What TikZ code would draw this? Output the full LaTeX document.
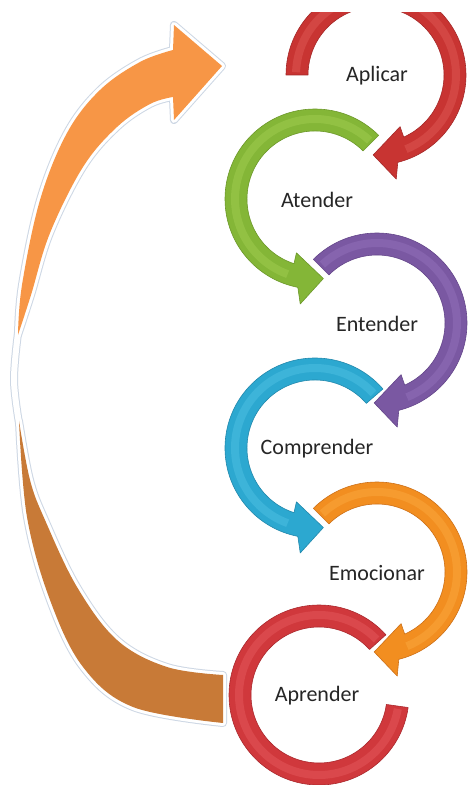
\documentclass[tikz,border=0pt]{standalone}
\usepackage{fontspec}
\setmainfont{Carlito}
\begin{document}
\begin{tikzpicture}[x=1pt,y=1pt,
  label/.style={inner sep=0pt, text=black!85, font=\fontsize{22}{26}\selectfont},
  bigedge/.style={draw={rgb,255:red,205;green,215;blue,228}, line width=8pt, line join=round, line cap=round},
  bigrim/.style={draw=white, line width=6pt, line join=round, line cap=round}]

\definecolor{redA}{RGB}{200,52,50}   \definecolor{redAh}{RGB}{222,88,84}   \definecolor{redAe}{RGB}{165,40,40}
\definecolor{grnA}{RGB}{132,182,55}  \definecolor{grnAh}{RGB}{160,204,80}  \definecolor{grnAe}{RGB}{108,152,42}
\definecolor{purA}{RGB}{122,88,162}  \definecolor{purAh}{RGB}{146,112,186} \definecolor{purAe}{RGB}{100,70,138}
\definecolor{cyaA}{RGB}{44,168,208}  \definecolor{cyaAh}{RGB}{78,192,226}  \definecolor{cyaAe}{RGB}{34,136,172}
\definecolor{orgA}{RGB}{242,142,32}  \definecolor{orgAh}{RGB}{250,168,62}  \definecolor{orgAe}{RGB}{205,112,24}
\definecolor{redB}{RGB}{208,56,60}   \definecolor{redBh}{RGB}{228,88,92}   \definecolor{redBe}{RGB}{170,40,45}
\definecolor{loopTop}{RGB}{247,150,70}
\definecolor{loopBot}{RGB}{200,122,55}

% clockwise ring arrow (right column): centre, start angle, fill, highlight, edge
\newcommand{\cwring}[5]{%
  \begin{scope}[shift={#1}]
    \filldraw[fill=#3, draw=#5, line width=0.6pt, line join=round]
      (#2:90) arc[start angle=#2, end angle=-76, radius=90]
      -- (-79:106) -- (-92:80) -- (-65:57) -- (-66:68)
      arc[start angle=-66, end angle=#2, radius=68] -- cycle;
    \draw[#4, line width=8pt, opacity=0.5]
      (#2-2:80) arc[start angle=#2-2, end angle=-68, radius=80];
  \end{scope}}

% counter-clockwise ring arrow (left column)
\newcommand{\ccwring}[5]{%
  \begin{scope}[shift={#1}]
    \filldraw[fill=#3, draw=#5, line width=0.6pt, line join=round]
      (#2:90) arc[start angle=#2, end angle=259, radius=90]
      -- (262:106) -- (276:80) -- (251:57) -- (252:68)
      arc[start angle=252, end angle=#2, radius=68] -- cycle;
    \draw[#4, line width=8pt, opacity=0.5]
      (#2+2:80) arc[start angle=#2+2, end angle=250, radius=80];
  \end{scope}}

% page
\fill[white] (0,0) rectangle (470,785);
\useasboundingbox (0,0) rectangle (470,785);

% large return arrow on the left: upper head, lower tail, thin join between
\def\loophead{(173,735) -- (174,760) -- (222,719) -- (174,665) -- (173,688)
  -- plot[smooth, tension=0.6] coordinates {(173,688) (150,681) (117,658) (83,618) (50,552) (31,490) (18,450)}
  -- plot[smooth, tension=0.6] coordinates {(18,450) (22,500) (40,585) (67,652) (100,695) (140,723) (173,735)}
  -- cycle}
\def\looptail{(223,110) -- (223,62)
  -- plot[smooth, tension=0.6] coordinates {(223,62) (133,78) (83,118) (50,185) (27,268) (19,364)}
  -- plot[smooth, tension=0.6] coordinates {(19,364) (30,305) (45,265) (77,198) (117,145) (167,118) (223,110)}
  -- cycle}
\def\loopjoin{plot[smooth, tension=0.6] coordinates {(18,452) (14,405) (19,362)}}

\path[bigedge] \loophead;
\path[bigedge] \looptail;
\path[bigedge] \loopjoin;
\path[bigrim] \loophead;
\path[bigrim] \looptail;
\path[bigrim] \loopjoin;
\fill[loopTop] \loophead;
\fill[loopBot] \looptail;

% ring arrows
\begin{scope}
  \clip (0,0) rectangle (470,772);
  \cwring{(376,710)}{180}{redA}{redAh}{redAe}
\end{scope}
\ccwring{(315,586)}{45}{grnA}{grnAh}{grnAe}
\cwring{(377,462)}{135}{purA}{purAh}{purAe}
\ccwring{(315,337)}{41}{cyaA}{cyaAh}{cyaAe}
\cwring{(377,213)}{135}{orgA}{orgAh}{orgAe}
\begin{scope}[shift={(319,90)}]
  \filldraw[fill=redB, draw=redBe, line width=0.6pt, line join=round]
    (42:90) arc[start angle=42, end angle=352, radius=90]
    -- (352:68) arc[start angle=352, end angle=42, radius=68] -- cycle;
  \draw[redBh, line width=8pt, opacity=0.5]
    (44:80) arc[start angle=44, end angle=350, radius=80];
\end{scope}

% labels
\node[label] (aplicar)    at (377,709) {Aplicar};
\node[label] (atender)    at (317,585) {Atender};
\node[label] (entender)   at (377,461) {Entender};
\node[label] (comprender) at (317,336) {Comprender};
\node[label] (emocionar)  at (377,212) {Emocionar};
\node[label] (aprender)   at (317,89)  {Aprender};
\end{tikzpicture}
\end{document}
